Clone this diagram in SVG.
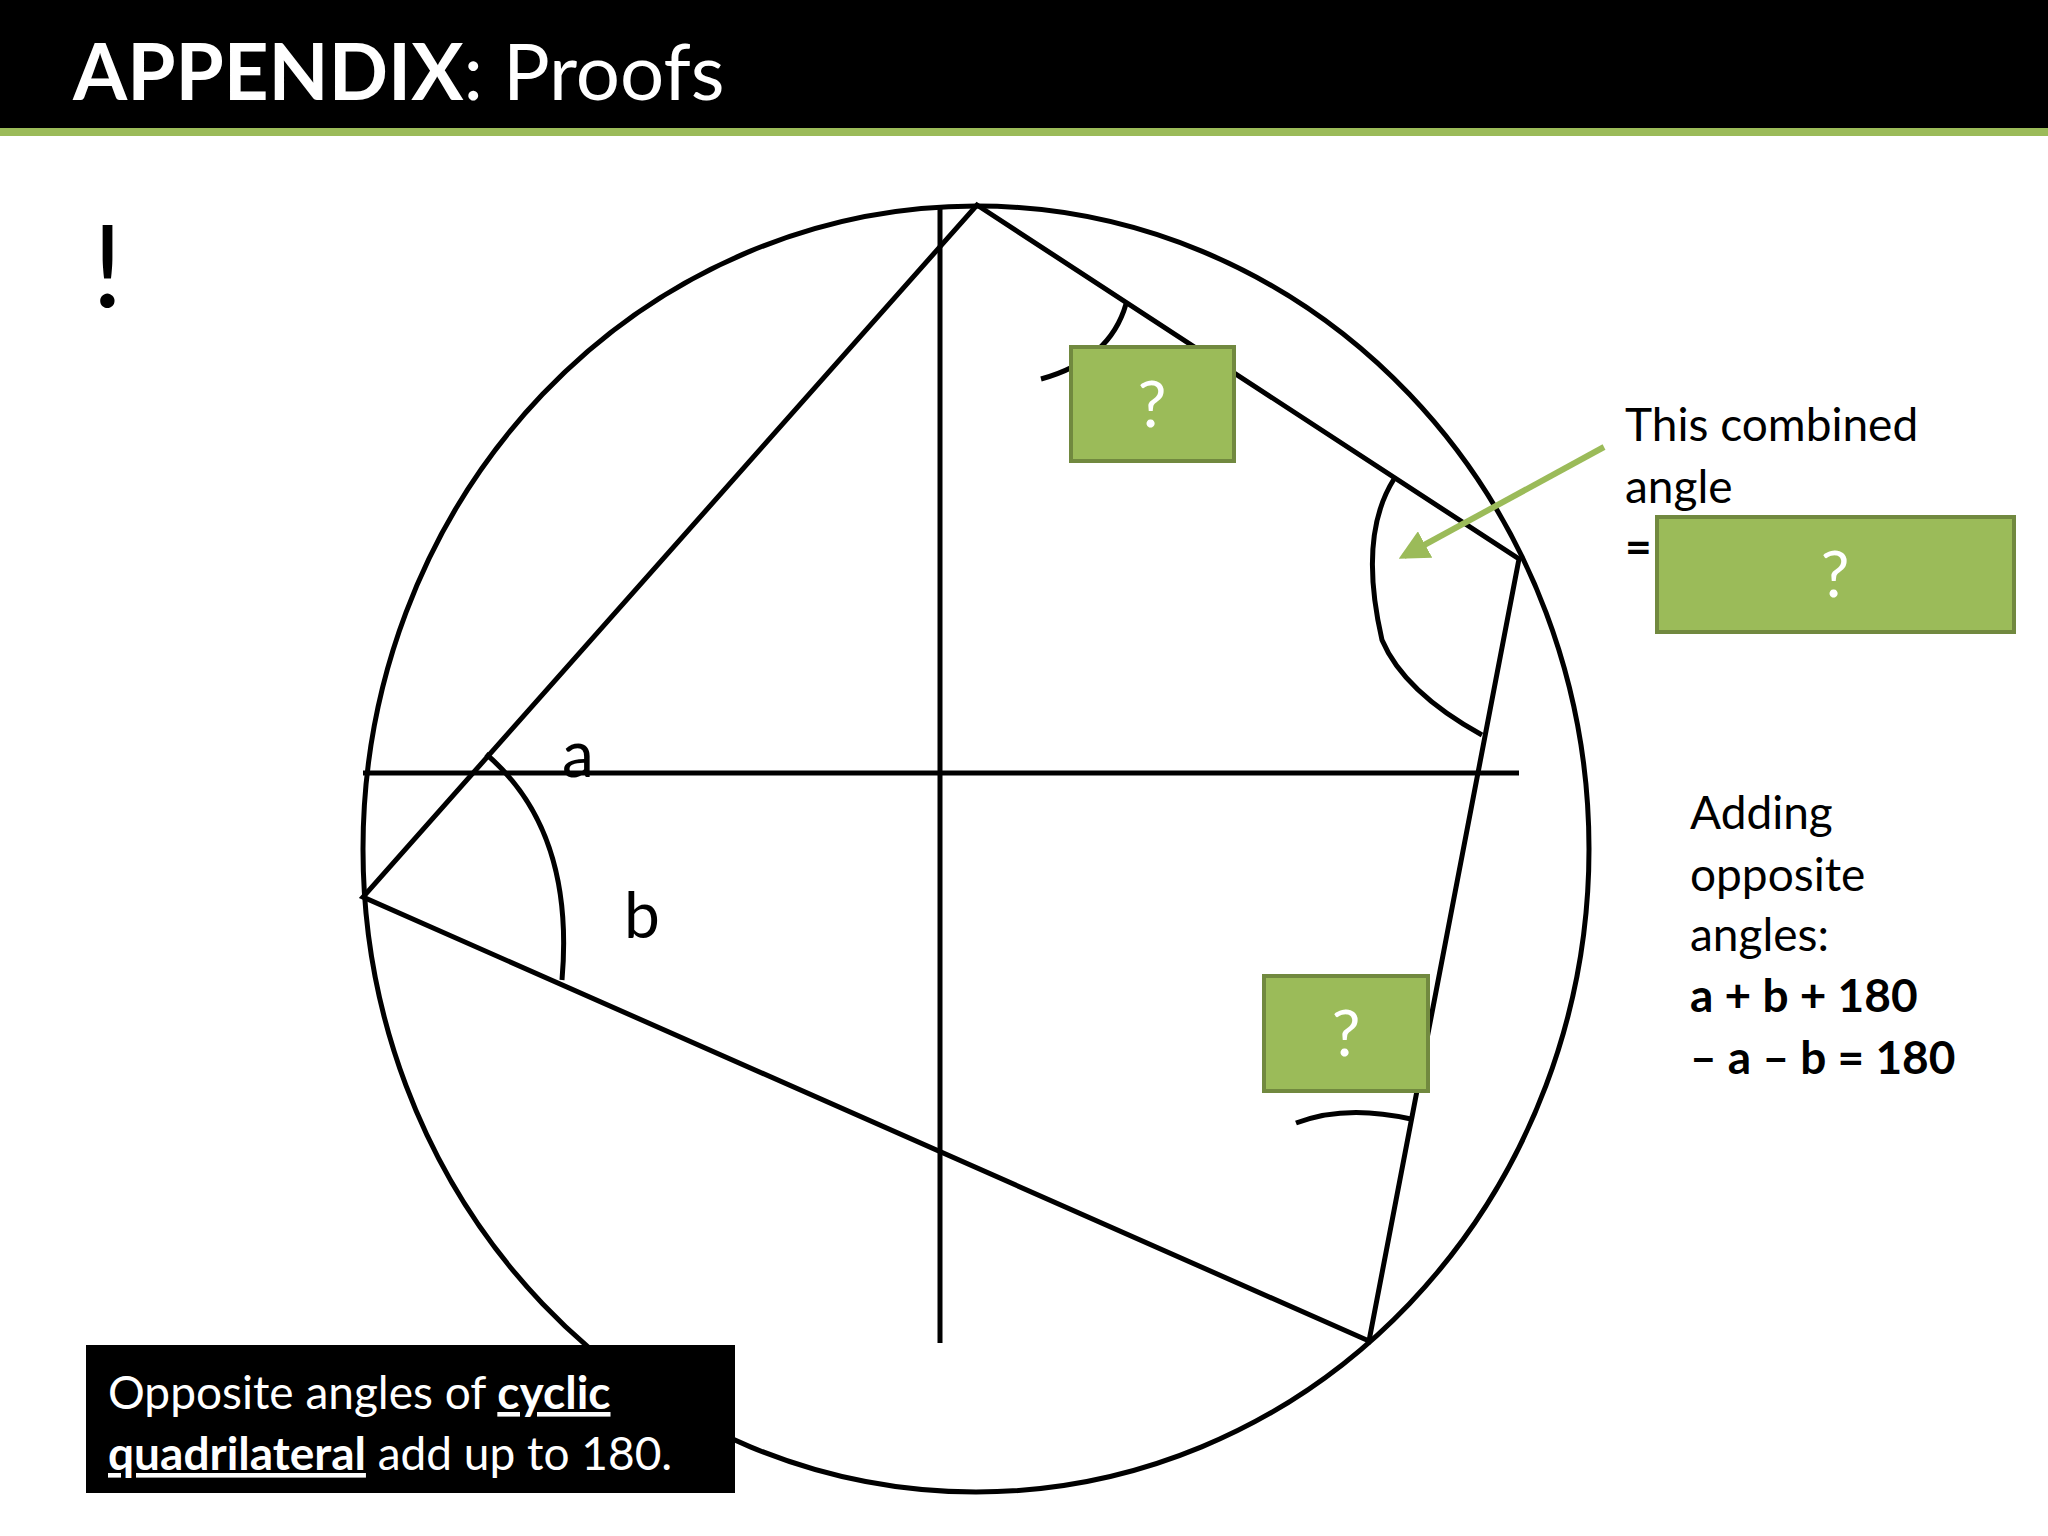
<svg xmlns="http://www.w3.org/2000/svg" width="2048" height="1536" viewBox="0 0 2048 1536">
<defs>
<style>
.ln{stroke:#000;stroke-width:5;fill:none}
.box{fill:#9BBB59;stroke:#71893F;stroke-width:4}
.q{font-family:Lato,"Open Sans",sans-serif;font-size:64px;fill:#fff;text-anchor:middle}
.t{font-family:Lato,"Open Sans",sans-serif;font-size:46px;fill:#000}
</style>
<marker id="ah" viewBox="0 0 10 10" refX="8" refY="5" markerWidth="5" markerHeight="5" orient="auto"><path d="M0,0L10,5L0,10z" fill="#9BBB59"/></marker>
</defs>
<rect width="2048" height="1536" fill="#fff"/>
<rect width="2048" height="128" fill="#000"/>
<rect y="128" width="2048" height="8" fill="#9BBB59"/>
<text x="73" y="100" font-family="Lato,'Open Sans',sans-serif" font-size="78" fill="#fff"><tspan font-weight="bold">APPENDIX</tspan>: Proofs</text>
<text x="92" y="307" font-family="Lato,'Open Sans',sans-serif" font-size="115" fill="#000">!</text>
<g id="figure">
<ellipse cx="976" cy="849" rx="613" ry="643" class="ln"/>
<line x1="940" y1="205" x2="940" y2="1343" class="ln"/>
<line x1="363" y1="773" x2="1519" y2="773" class="ln"/>
<polygon points="977,205 1519,559 1369,1341 363,897" class="ln"/>
<path d="M486,754 Q575,830 562,980" class="ln"/>
<path d="M1041,379 Q1110,360 1126,304" class="ln"/>
<path d="M1394,479 Q1358,536 1382,640 Q1404,692 1482,735" class="ln"/>
<path d="M1296,1123 Q1345,1104 1411,1119" class="ln"/>
<text x="562" y="777" font-family="Lato,'Open Sans',sans-serif" font-size="64">a</text>
<text x="624" y="938" font-family="Lato,'Open Sans',sans-serif" font-size="64">b</text>
</g>
<g id="box1"><rect x="1071" y="347" width="163" height="114" class="box"/><text x="1152" y="427" class="q">?</text></g>
<g id="box2"><rect x="1657" y="517" width="357" height="115" class="box"/><text x="1835" y="597" class="q">?</text></g>
<g id="box3"><rect x="1264" y="976" width="164" height="115" class="box"/><text x="1346" y="1056" class="q">?</text></g>
<g id="connectors"><line x1="1604" y1="447" x2="1404" y2="556" stroke="#9BBB59" stroke-width="6" marker-end="url(#ah)"/></g>
<g id="note1"><text class="t" x="1625" y="441">This combined</text><text class="t" x="1625" y="503">angle</text><text class="t" x="1625" y="563" font-weight="bold">=</text></g>
<g id="note2"><text class="t" x="1690" y="829">Adding</text><text class="t" x="1690" y="891">opposite</text><text class="t" x="1690" y="951">angles:</text><text class="t" x="1690" y="1012" font-weight="bold">a + b + 180</text><text class="t" x="1690" y="1074" font-weight="bold">– a – b = 180</text></g>
<g id="theorem"><rect x="86" y="1345" width="649" height="148" fill="#000"/>
<text class="t" x="108" y="1409" style="fill:#fff">Opposite angles of <tspan font-weight="bold" text-decoration="underline">cyclic</tspan></text>
<text class="t" x="108" y="1470" style="fill:#fff"><tspan font-weight="bold" text-decoration="underline">quadrilateral</tspan> add up to 180.</text></g>
</svg>
